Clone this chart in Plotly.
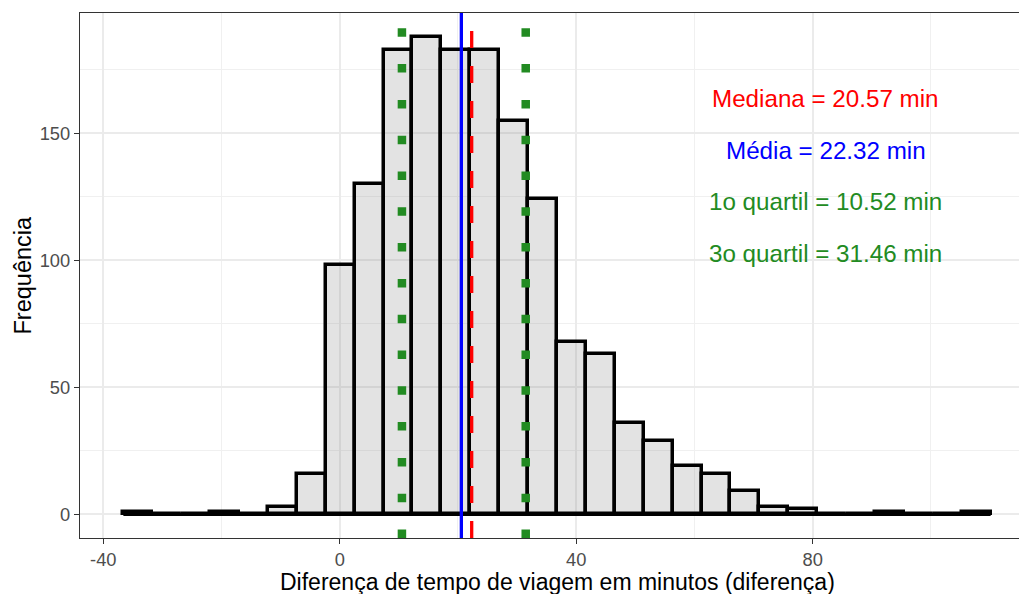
import plotly.graph_objects as go

# Histogram of travel-time differences (30 bins)
bin_start = -36.6
bin_width = 4.89
counts = [1, 0, 0, 1, 0, 3, 16, 98, 130, 183, 188, 183, 183, 155, 124,
          68, 63, 36, 29, 19, 16, 9, 3, 2, 0, 0, 1, 0, 0, 1]

# Summary statistics (minutes)
mediana = 20.57
media = 22.32
q1 = 10.52
q3 = 31.46

labels = [
    f"Mediana = {mediana:.2f} min",
    f"Média = {media:.2f} min",
    f"1o quartil = {q1:.2f} min",
    f"3o quartil = {q3:.2f} min",
]
label_colors = ["red", "blue", "forestgreen", "forestgreen"]

x_ticks = [-40, 0, 40, 80]
y_ticks = [0, 50, 100, 150]

x_title = "Diferença de tempo de viagem em minutos (diferença)"
y_title = "Frequência"

FONT = "Liberation Sans, Arial, sans-serif"

n = len(counts)
edges = [bin_start + i * bin_width for i in range(n + 1)]
centers = [(edges[i] + edges[i + 1]) / 2 for i in range(n)]

# ggplot-style 5% expansion of the data range
span = edges[-1] - edges[0]
x_lo = edges[0] - 0.05 * span
x_hi_full = edges[-1] + 0.05 * span
x_hi = x_lo + (x_hi_full - x_lo) * 939 / 954   # right edge of panel is trimmed
y_lo = -0.05 * max(counts)
y_hi = 1.05 * max(counts)

fig = go.Figure()

fig.add_trace(go.Bar(
    x=centers, y=counts, width=bin_width,
    marker=dict(color="rgba(127,127,127,0.22)",
                line=dict(color="black", width=3.5)),
    hoverinfo="x+y", showlegend=False,
))

# bottom outline of the empty bins
fig.add_trace(go.Scatter(
    x=[edges[0], edges[-1]], y=[0, 0], mode="lines",
    line=dict(color="black", width=3.5), hoverinfo="skip", showlegend=False,
))

# reference lines for the statistics
vlines = [
    (mediana, "blue", 3.3, "solid"),
    (media, "red", 3.3, "17px,18px"),
    (q1, "forestgreen", 8.5, "8.5px,27.3px"),
    (q3, "forestgreen", 8.5, "8.5px,27.3px"),
]
for xv, col, w, dash in vlines:
    fig.add_shape(type="line", xref="x", yref="paper", x0=xv, x1=xv, y0=0, y1=1,
                  line=dict(color=col, width=w, dash=dash), layer="above")

text_x = 82.2
text_y = [163.8, 143.3, 123.2, 102.8]
for txt, col, ty in zip(labels, label_colors, text_y):
    fig.add_annotation(x=text_x, y=ty, xref="x", yref="y", text=txt,
                       showarrow=False, xanchor="center", yanchor="middle",
                       font=dict(family=FONT, size=24.2, color=col))

# axis titles
fig.add_annotation(x=(x_lo + x_hi_full) / 2, y=0, xref="x", yref="paper",
                   text=x_title, showarrow=False, xanchor="center", yanchor="middle",
                   yshift=-43.5, font=dict(family=FONT, size=23, color="black"))
fig.add_annotation(x=0, y=0.5, xref="paper", yref="paper", text=y_title,
                   textangle=-90, showarrow=False, xanchor="center", yanchor="middle",
                   xshift=-58, font=dict(family=FONT, size=23.5, color="black"))

axis_common = dict(
    showgrid=True, gridcolor="#EBEBEB", gridwidth=1.6,
    zeroline=False, showline=True, linecolor="#333333", linewidth=1.3,
    ticks="outside", ticklen=5, tickwidth=1.3, tickcolor="#333333",
    tickfont=dict(family=FONT, size=18.3, color="#4D4D4D"),
)

fig.update_xaxes(range=[x_lo, x_hi], tickmode="array", tickvals=x_ticks,
                 ticktext=[str(v) for v in x_ticks], mirror=True,
                 minor=dict(tickmode="linear", tick0=0, dtick=20, showgrid=True,
                            gridcolor="#F0F0F0", gridwidth=1.0, ticks=""),
                 **axis_common)
fig.update_yaxes(range=[y_lo, y_hi], tickmode="array", tickvals=y_ticks,
                 ticktext=[str(v) for v in y_ticks],
                 minor=dict(tickmode="linear", tick0=0, dtick=25, showgrid=True,
                            gridcolor="#F0F0F0", gridwidth=1.0, ticks=""),
                 **axis_common)

fig.update_layout(
    width=1019, height=594,
    margin=dict(l=80, r=0, t=13, b=56),
    paper_bgcolor="white", plot_bgcolor="white",
    bargap=0, showlegend=False,
    font=dict(family=FONT),
)

fig.write_html("out.html")
